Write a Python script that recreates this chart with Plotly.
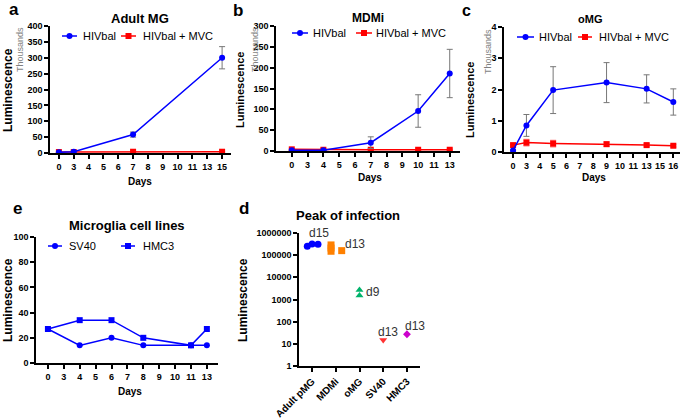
import plotly.graph_objects as go

W, H = 685, 419

# ---- panel a : Adult MG (thousands)
a_ticks = ["0", "3", "4", "5", "6", "7", "8", "9", "10", "11", "13", "15"]
a_days = ["0", "3", "7", "15"]
a_hiv = [2, 4, 58, 300]
a_hiv_err = [1, 2, 8, 35]
a_mvc = [3, 3, 4, 4]
a_mvc_err = [1, 1, 1, 1]

# ---- panel b : MDMi (thousands)
b_ticks = ["0", "3", "4", "5", "6", "7", "8", "9", "10", "11", "13"]
b_days = ["0", "4", "7", "10", "13"]
b_hiv = [2, 2, 20, 96, 186]
b_hiv_err = [1, 1, 14, 39, 58]
b_mvc = [4, 3, 3, 3, 3]
b_mvc_err = [1, 1, 1, 1, 1]

# ---- panel c : oMG (thousands)
c_ticks = ["0", "3", "4", "5", "6", "7", "8", "9", "10", "11", "13", "15", "16"]
c_days = ["0", "3", "5", "9", "13", "16"]
c_hiv = [0.05, 0.85, 1.98, 2.22, 2.02, 1.6]
c_hiv_err = [0.02, 0.35, 0.75, 0.64, 0.45, 0.42]
c_mvc = [0.22, 0.3, 0.27, 0.25, 0.22, 0.2]
c_mvc_err = [0.03, 0.1, 0.1, 0.07, 0.05, 0.04]

# ---- panel e : microglia cell lines
e_ticks = ["0", "3", "4", "5", "6", "7", "8", "9", "10", "11", "13"]
e_days = ["0", "4", "6", "8", "11", "13"]
e_sv40 = [27, 14, 20, 14, 14, 14]
e_hmc3 = [27, 34, 34, 20, 14, 27]

# ---- panel d : peak of infection
d_groups = ["Adult pMG", "MDMi", "oMG", "SV40", "HMC3"]
d_pmg = [250000, 320000, 310000]
d_pmg_off = [-0.2, 0.0, 0.25]
d_mdmi = [290000, 210000, 150000, 160000]
d_mdmi_off = [-0.2, -0.2, -0.2, 0.25]
d_omg = [2700, 1500]
d_sv40 = [15]
d_hmc3 = [27]
d_labels = ["d15", "d13", "d9", "d13", "d13"]

series_names = ["HIVbal", "HIVbal + MVC"]
line_names = ["SV40", "HMC3"]

BLUE = "#0000FF"
RED = "#FF0000"
GREY = "#7f7f7f"
FONT = "Liberation Sans"


def X(p):
    return p / W


def Y(p):
    return 1 - p / H


fig = go.Figure()


def line_pair(xa, ya, days, hiv, hiv_err, mvc, mvc_err):
    fig.add_trace(go.Scatter(
        x=days, y=mvc, xaxis=xa, yaxis=ya, name=series_names[1], showlegend=False,
        mode="lines+markers", line=dict(color=RED, width=1.5),
        marker=dict(symbol="square", size=6, color=RED),
        error_y=dict(array=mvc_err, color="#FF8080", thickness=1.5, width=3),
    ))
    fig.add_trace(go.Scatter(
        x=days, y=hiv, xaxis=xa, yaxis=ya, name=series_names[0], showlegend=False,
        mode="lines+markers", line=dict(color=BLUE, width=1.5),
        marker=dict(symbol="circle", size=6, color=BLUE),
        error_y=dict(array=hiv_err, color="#777777", thickness=1, width=3),
    ))


line_pair("x", "y", a_days, a_hiv, a_hiv_err, a_mvc, a_mvc_err)
line_pair("x2", "y2", b_days, b_hiv, b_hiv_err, b_mvc, b_mvc_err)
line_pair("x3", "y3", c_days, c_hiv, c_hiv_err, c_mvc, c_mvc_err)

fig.add_trace(go.Scatter(
    x=e_days, y=e_sv40, xaxis="x4", yaxis="y4", name=line_names[0], showlegend=False,
    mode="lines+markers", line=dict(color=BLUE, width=1.5),
    marker=dict(symbol="circle", size=6, color=BLUE)))
fig.add_trace(go.Scatter(
    x=e_days, y=e_hmc3, xaxis="x4", yaxis="y4", name=line_names[1], showlegend=False,
    mode="lines+markers", line=dict(color=BLUE, width=1.5),
    marker=dict(symbol="square", size=6, color=BLUE)))

d_specs = [
    (0, d_pmg, d_pmg_off, "circle", "#0000FF", 7),
    (1, d_mdmi, d_mdmi_off, "square", "#FF8000", 7),
    (2, d_omg, [0, 0], "triangle-up", "#00B36B", 7),
    (3, d_sv40, [0], "triangle-down", "#FF3333", 7),
    (4, d_hmc3, [0], "diamond", "#CC00CC", 6),
]
for gi, vals, offs, sym, col, sz in d_specs:
    fig.add_trace(go.Scatter(
        x=[gi + o for o in offs], y=vals, xaxis="x5", yaxis="y5",
        mode="markers", showlegend=False,
        marker=dict(symbol=sym, size=sz, color=col)))

tickfont = dict(family=FONT, size=9, color="black", weight="bold")
axis_common = dict(showgrid=False, zeroline=False, showline=True, linecolor="black",
                   linewidth=1.5, ticks="outside", ticklen=4, tickwidth=1.5,
                   tickcolor="black", tickfont=tickfont, automargin=False)


def cat_axis(ticks, x0, x1, lo, hi, anchor):
    return dict(axis_common, type="category", categoryorder="array", categoryarray=ticks,
                range=[lo, len(ticks) - 1 + hi], domain=[X(x0), X(x1)], anchor=anchor)


def val_axis(y0, y1, rng, dtick, anchor):
    return dict(axis_common, range=rng, dtick=dtick, domain=[Y(y1), Y(y0)], anchor=anchor)


fig.update_layout(
    width=W, height=H, margin=dict(l=0, r=0, t=0, b=0, autoexpand=False),
    paper_bgcolor="white", plot_bgcolor="white", showlegend=False,
    font=dict(family=FONT, color="black"),
    xaxis=cat_axis(a_ticks, 50, 231, -0.6, 0.6, "y"),
    yaxis=val_axis(26, 153, [0, 400], 50, "x"),
    xaxis2=cat_axis(b_ticks, 276, 460, -1.0, 0.65, "y2"),
    yaxis2=val_axis(26, 151, [0, 300], 50, "x2"),
    xaxis3=cat_axis(c_ticks, 504, 680, -0.68, 0.5, "y3"),
    yaxis3=val_axis(27, 152, [0, 4], 1, "x3"),
    xaxis4=cat_axis(e_ticks, 36, 218, -0.75, 0.7, "y4"),
    yaxis4=val_axis(237, 363, [0, 100], 20, "x4"),
    xaxis5=dict(axis_common, range=[-0.55, 4.55], tickvals=list(range(5)), ticktext=d_groups,
                tickangle=-45, tickfont=dict(tickfont, size=10),
                domain=[X(299), X(420)], anchor="y5"),
    yaxis5=dict(axis_common, type="log", range=[0, 6], dtick=1, tickformat="d",
                domain=[Y(366), Y(233)], anchor="x5"),
)

ann = []
shapes = []


def txt(x, y, s, size, bold=True, angle=0, color="black", xanchor="center"):
    ann.append(dict(x=X(x), y=Y(y), xref="paper", yref="paper", text=s, showarrow=False,
                    xanchor=xanchor, yanchor="middle", textangle=angle,
                    font=dict(family=FONT, size=size, color=color,
                              weight="bold" if bold else "normal")))


def key(x0, x1, y, color, square, label, tx, size=11):
    # hand-placed legend key: short line, marker, label
    shapes.append(dict(type="line", xref="paper", yref="paper", x0=X(x0), x1=X(x1),
                       y0=Y(y), y1=Y(y), line=dict(color=color, width=1.5)))
    cx, r = (x0 + x1) / 2, 3
    shapes.append(dict(type="rect" if square else "circle", xref="paper", yref="paper",
                       x0=X(cx - r), x1=X(cx + r), y0=Y(y + r), y1=Y(y - r),
                       fillcolor=color, line=dict(color=color, width=0)))
    txt(tx, y, label, size, bold=False, xanchor="left")


# legends
key(62, 77, 36, BLUE, False, series_names[0], 81)
key(121, 136, 36, RED, True, series_names[1], 141)
key(292, 308, 33, BLUE, False, series_names[0], 311)
key(356, 372, 33, RED, True, series_names[1], 374)
key(517, 534, 37, BLUE, False, series_names[0], 537)
key(578, 592, 37, RED, True, series_names[1], 597)
key(48, 62, 246, BLUE, False, line_names[0], 67)
key(121, 135, 246, BLUE, True, line_names[1], 141)

# panel letters
txt(14, 9, "a", 17)
txt(238, 10, "b", 17)
txt(466, 11, "c", 16)
txt(17, 208, "e", 17)
txt(244, 208, "d", 17)
# titles
txt(140, 19, "Adult MG", 13)
txt(368, 18, "MDMi", 12)
txt(590, 19, "oMG", 11)
txt(127, 225, "Microglia cell lines", 13)
txt(348, 215, "Peak of infection", 13)
# y titles
txt(8, 90, "Luminescence", 12, angle=-90)
txt(20, 50, "Thousands", 9, bold=False, angle=-90, color=GREY)
txt(240, 90, "Luminescence", 11, angle=-90)
txt(255, 50, "Thousands", 9, bold=False, angle=-90, color=GREY)
txt(470, 100, "Luminescence", 11, angle=-90)
txt(488, 52, "Thousands", 9, bold=False, angle=-90, color=GREY)
txt(8, 300, "Luminescence", 12, angle=-90)
txt(243, 300, "Luminescence", 12, angle=-90)
# x titles
txt(140, 181, "Days", 10)
txt(370, 178, "Days", 10)
txt(594, 178, "Days", 10)
txt(130, 391, "Days", 10)

fig.update_layout(annotations=ann, shapes=shapes)

# peak labels placed in panel d data coordinates (log axis -> log10 values)
d_label_pos = [(0.3, 6.0), (1.8, 5.5), (2.55, 3.33), (3.2, 1.52), (4.35, 1.8)]
for lab, (lx, ly) in zip(d_labels, d_label_pos):
    fig.add_annotation(x=lx, y=ly, xref="x5", yref="y5", text=lab, showarrow=False,
                       font=dict(family=FONT, size=12, color="#333333"))

fig.write_html("out.html", config={"displayModeBar": False},
               post_script="document.body.style.margin='0px';")
